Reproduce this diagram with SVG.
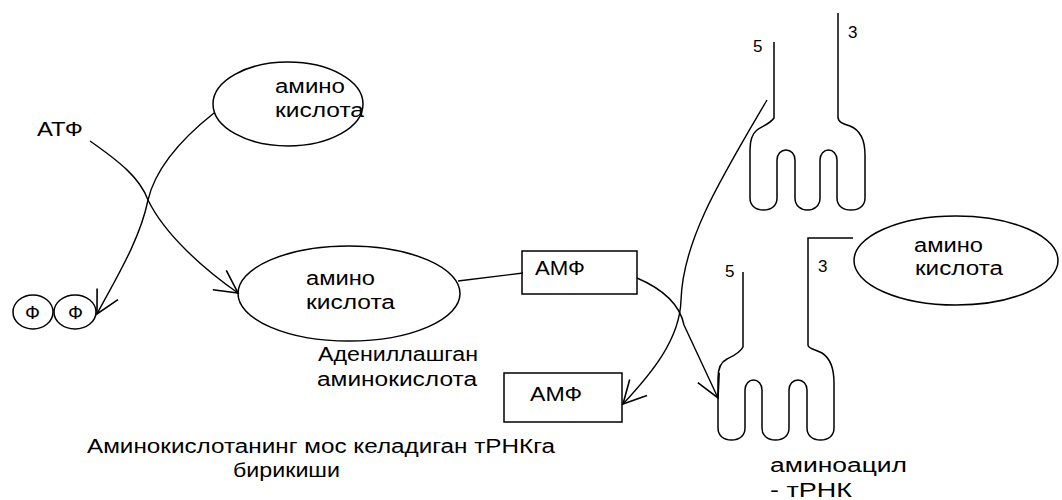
<svg xmlns="http://www.w3.org/2000/svg" width="1062" height="500" viewBox="0 0 1062 500">
<defs>
<style>
.t{font-family:"Liberation Sans",Arial,sans-serif;font-size:20px;fill:#000}
.n{font-family:"Liberation Sans",Arial,sans-serif;font-size:17px;fill:#000}
.f{font-family:"Liberation Sans",Arial,sans-serif;font-size:19px;fill:#000}
.s{fill:none;stroke:#000;stroke-width:1.5}
.c{fill:none;stroke:#000;stroke-width:1.4}
</style>
<marker id="ah" markerUnits="userSpaceOnUse" markerWidth="30" markerHeight="30" viewBox="-24 -14 28 28" refX="0" refY="0" orient="auto" overflow="visible">
<path d="M-21,-11 L0,0 L-21,11" fill="none" stroke="#000" stroke-width="1.5"/>
</marker>
</defs>
<rect width="1062" height="500" fill="#fff"/>

<g id="connectors">
<path class="c" d="M214,113 C180,140 155,170 148,200 C140,240 115,280 97,314" marker-end="url(#ah)"/>
<path class="c" d="M90,141 C120,162 140,178 148,200 C165,235 205,270 238,293" marker-end="url(#ah)"/>
<path class="c" d="M458,281 L523,273"/>
<path class="c" d="M637,278 C665,290 680,305 684,325 L718,398" marker-end="url(#ah)"/>
<path class="c" d="M767,100 C720,180 683,240 681,300 C680,340 650,375 623,404" marker-end="url(#ah)"/>
</g>

<g id="amino-top">
<ellipse class="s" cx="288" cy="104" rx="75" ry="42"/>
<text class="t" x="275" y="93" textLength="70" lengthAdjust="spacingAndGlyphs">амино</text>
<text class="t" x="275" y="117" textLength="89" lengthAdjust="spacingAndGlyphs">кислота</text>
</g>

<g id="atf">
<text class="t" x="37" y="136" textLength="46" lengthAdjust="spacingAndGlyphs">АТФ</text>
</g>

<g id="ff">
<ellipse class="s" cx="33" cy="312" rx="20" ry="17"/>
<ellipse class="s" cx="75" cy="312" rx="21" ry="17"/>
<text class="f" x="25" y="319" textLength="15" lengthAdjust="spacingAndGlyphs">Ф</text>
<text class="f" x="68" y="319" textLength="15" lengthAdjust="spacingAndGlyphs">Ф</text>
</g>

<g id="amino-adenyl">
<ellipse class="s" cx="349" cy="293.5" rx="111" ry="47.5"/>
<text class="t" x="306" y="285" textLength="69" lengthAdjust="spacingAndGlyphs">амино</text>
<text class="t" x="306" y="309" textLength="89" lengthAdjust="spacingAndGlyphs">кислота</text>
</g>

<g id="adenyl-label">
<text class="t" x="318" y="361" textLength="160" lengthAdjust="spacingAndGlyphs">Адениллашган</text>
<text class="t" x="317" y="386" textLength="160" lengthAdjust="spacingAndGlyphs">аминокислота</text>
</g>

<g id="amf1">
<rect class="s" x="522" y="251" width="115" height="43"/>
<text class="t" x="535" y="275" textLength="50" lengthAdjust="spacingAndGlyphs">АМФ</text>
</g>

<g id="amf2">
<rect class="s" x="504" y="373" width="118" height="49"/>
<text class="t" x="530" y="401" textLength="52" lengthAdjust="spacingAndGlyphs">АМФ</text>
</g>

<g id="caption">
<text class="t" x="87" y="453" textLength="468" lengthAdjust="spacingAndGlyphs">Аминокислотанинг мос келадиган тРНКга</text>
<text class="t" x="233" y="477" textLength="107" lengthAdjust="spacingAndGlyphs">бирикиши</text>
</g>

<g id="trna-top">
<path class="s" d="M774,42 L774,118 C770,124 762,126 757,130 C752,134 750,140 750,150 L750,198 C750,206 756,210 763.5,210 C771,210 777,206 777,198 L777,160 C777,154 781,150 786,150 C791,150 795,154 795,160 L795,198 C795,206 801,210 807.5,210 C814,210 820,206 820,198 L820,160 C820,154 824,150 828.5,150 C833,150 837,154 837,160 L837,198 C837,206 843,210 851,210 C859,210 865,206 865,198 L865,155 C865,140 860,130 850,126 C843,124 838,122 838,117 L838,13"/>
<text class="n" x="753" y="52">5</text>
<text class="n" x="848" y="38">3</text>
</g>

<g id="trna-bottom">
<path class="s" d="M743,272 L743,347 C740,353 733,356 727,359 C721,362 718,368 718,378 L718,428 C718,436 724,440 731.5,440 C739,440 745,436 745,428 L745,390 C745,384 749,380 753.5,380 C758,380 762,384 762,390 L762,428 C762,436 768,440 775.5,440 C783,440 789,436 789,428 L789,390 C789,384 793,380 798,380 C803,380 807,384 807,390 L807,428 C807,436 813,440 820.5,440 C828,440 834,436 834,428 L834,383 C834,368 830,358 822,353 C815,349 808,349 808,345 L808,238 L853,238"/>
<text class="n" x="725" y="277">5</text>
<text class="n" x="818" y="272">3</text>
<text class="t" x="770" y="472" textLength="137" lengthAdjust="spacingAndGlyphs">аминоацил</text>
<text class="t" x="770" y="497" textLength="82" lengthAdjust="spacingAndGlyphs">- тРНК</text>
</g>

<g id="amino-right">
<ellipse class="s" cx="956" cy="260.5" rx="102" ry="44.5"/>
<text class="t" x="914" y="252" textLength="69" lengthAdjust="spacingAndGlyphs">амино</text>
<text class="t" x="915" y="275" textLength="88" lengthAdjust="spacingAndGlyphs">кислота</text>
</g>
</svg>
